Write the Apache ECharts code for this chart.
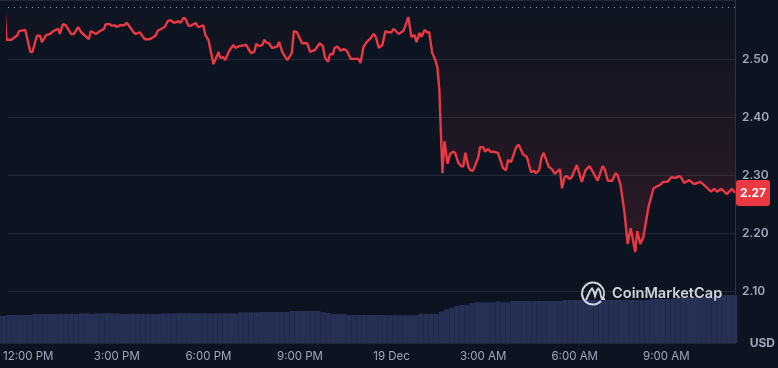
<!DOCTYPE html>
<html lang="en">
<head>
    <meta charset="UTF-8">
    <title>Price chart</title>
    <script src="https://cdn.jsdelivr.net/npm/echarts@6/dist/echarts.min.js"></script>
    <style>
        html, body { margin: 0; padding: 0; background: #0d1421; }
        #chart { width: 778px; height: 368px; }
    </style>
</head>
<body>
<div id="chart"></div>
<script>
    // minutes after 12:00 PM, price in USD
    const pricePoints = [
        [-41,2.594],[-37,2.534],[-27,2.534],[-20,2.539],[-16,2.541],[-12,2.549],[0,2.551],[10,2.513],[14,2.513],[23,2.541],
        [29,2.541],[33,2.530],[41,2.542],[49,2.544],[55,2.549],[65,2.553],[68,2.544],[74,2.561],[80,2.559],[90,2.544],
        [96,2.544],[104,2.556],[110,2.547],[125,2.535],[129,2.549],[139,2.544],[147,2.549],[155,2.553],[158,2.561],[166,2.561],
        [170,2.558],[176,2.559],[180,2.556],[186,2.559],[194,2.559],[200,2.563],[213,2.547],[217,2.544],[225,2.547],[235,2.535],
        [245,2.535],[256,2.541],[260,2.549],[274,2.556],[280,2.566],[286,2.568],[292,2.563],[301,2.566],[305,2.563],[311,2.572],
        [315,2.570],[321,2.558],[325,2.558],[335,2.563],[340,2.556],[350,2.559],[354,2.542],[360,2.534],[370,2.492],[380,2.513],
        [383,2.503],[389,2.504],[393,2.499],[401,2.515],[409,2.525],[413,2.520],[421,2.523],[434,2.525],[444,2.511],[450,2.513],
        [454,2.527],[460,2.523],[466,2.525],[470,2.534],[473,2.530],[479,2.528],[485,2.520],[495,2.522],[499,2.530],[505,2.513],
        [515,2.499],[524,2.511],[528,2.549],[534,2.547],[544,2.528],[554,2.528],[560,2.513],[569,2.516],[579,2.528],[585,2.523],
        [589,2.504],[595,2.496],[599,2.509],[605,2.509],[608,2.520],[614,2.522],[620,2.515],[626,2.518],[632,2.515],[640,2.501],
        [648,2.501],[655,2.501],[659,2.494],[665,2.522],[671,2.530],[679,2.537],[685,2.544],[689,2.539],[695,2.520],[702,2.525],
        [708,2.549],[712,2.547],[720,2.547],[724,2.553],[734,2.544],[743,2.549],[747,2.558],[753,2.573],[759,2.539],[765,2.542],
        [769,2.530],[775,2.546],[779,2.539],[785,2.551],[790,2.547],[794,2.547],[800,2.511],[806,2.499],[810,2.487],[814,2.447],
        [816,2.396],[820,2.304],[824,2.359],[830,2.320],[835,2.337],[841,2.341],[845,2.339],[851,2.322],[857,2.316],[861,2.316],
        [865,2.339],[871,2.315],[875,2.309],[880,2.308],[890,2.330],[894,2.349],[900,2.349],[904,2.341],[910,2.346],[914,2.341],
        [920,2.341],[929,2.339],[939,2.313],[945,2.309],[949,2.327],[955,2.323],[965,2.349],[970,2.353],[978,2.337],[986,2.332],
        [994,2.306],[1000,2.308],[1004,2.304],[1010,2.309],[1015,2.332],[1019,2.339],[1029,2.315],[1035,2.311],[1041,2.303],[1051,2.311],
        [1055,2.278],[1060,2.297],[1064,2.299],[1070,2.294],[1074,2.297],[1084,2.318],[1094,2.289],[1101,2.309],[1109,2.316],[1117,2.304],
        [1125,2.291],[1135,2.316],[1139,2.311],[1145,2.291],[1154,2.291],[1160,2.304],[1164,2.301],[1170,2.284],[1178,2.235],[1184,2.182],
        [1190,2.209],[1199,2.168],[1203,2.204],[1209,2.182],[1215,2.194],[1225,2.246],[1235,2.278],[1238,2.278],[1248,2.284],[1254,2.289],
        [1262,2.289],[1270,2.297],[1278,2.296],[1285,2.299],[1289,2.297],[1295,2.287],[1305,2.292],[1315,2.285],[1327,2.289],[1336,2.282],
        [1348,2.272],[1354,2.277],[1360,2.272],[1368,2.277],[1379,2.268],[1389,2.277],[1395,2.270]
    ];
    const openTick = [[-43,2.598],[-41,2.594]];
    const openPrice = 2.5935;
    const lastPrice = 2.27;

    // 10 minute volume bars, first one at -40 min
    const volumes = [
        27,27,28,28,28,28,28,29,29,29,29,29,29,29,29,29,29.7,29.7,29,29.7,
        29.7,29.7,29.7,29.7,29,29,29,29,29,29,29,29,29.7,29.7,29.7,29.7,29.7,29.7,29.7,29.7,
        29.7,29.7,29.7,29.7,29.7,29.7,29.7,30.7,30.7,30.7,30.7,31,31,31,31,31,31,32,32,32,
        32,32,32,30.7,30,29,29,29,28,28,28,28,28,28,28,28,27.7,27.7,27.7,27.7,
        27.7,27.7,29,29,29,29,31.3,33.7,35.3,37,38,38,40,40.7,40.7,40.7,40.7,41.7,40.7,40.7,
        42,42,42,42,42,42,42,42,42,42,43,43,43,43,43,43,43,43,43,43,
        43,43,43,43,43,43,43,44,44,44,44,44,46,46,46,46,46,46,46,46,46,48,48,48
    ];
    const volumeStart = -40;
    const volumeStep = 10;

    const timeTicks = [0, 180, 360, 540, 720, 900, 1080, 1260];
    const timeLabels = ['12:00 PM', '3:00 PM', '6:00 PM', '9:00 PM', '19 Dec', '3:00 AM', '6:00 AM', '9:00 AM'];

    const textColor = '#a1a7bb';
    const lineColor = '#222a38';
    const red = '#ea3943';
    const xMin = -43, xMax = 1397;

    let chart = echarts.init(document.getElementById('chart'));
    chart.setOption({
        backgroundColor: '#0d1421',
        animation: false,
        textStyle: { fontFamily: 'Inter' },
        grid: [
            { left: 0, right: 42, top: 1.5, bottom: 18.5 },
            { left: 0, right: 42, top: 0, bottom: 25 }
        ],
        xAxis: [
            {
                // the bar series widens this axis on the left by about 9 min, so min sits inside the range
                type: 'value', gridIndex: 0, min: xMin + 9, max: xMax,
                splitLine: { show: false },
                axisLine: { show: false },
                axisTick: { show: false },
                axisLabel: {
                    color: textColor,
                    fontSize: 11.5,
                    margin: 1,
                    customValues: timeTicks,
                    formatter: (value) => {
                        let label = timeLabels[timeTicks.indexOf(value)];
                        return value === 0 ? '{first|' + label + '}' : label;
                    },
                    rich: { first: { color: textColor, fontSize: 11.5, padding: [0, 0, 0, 6] } }
                }
            },
            {
                type: 'value', gridIndex: 1, min: xMin + 5, max: xMax - 5,
                splitLine: { show: false },
                axisLine: { show: true, onZero: false, lineStyle: { color: lineColor, width: 1 } },
                axisTick: { show: false },
                axisLabel: { show: false },
                name: 'USD',
                nameLocation: 'end',
                nameGap: 14,
                nameTextStyle: { color: textColor, fontSize: 12, fontWeight: 700, verticalAlign: 'middle', padding: [0, 0, 10, 0] }
            }
        ],
        yAxis: [
            {
                type: 'value', gridIndex: 0, position: 'right', min: 2.0, max: 2.6, interval: 0.1,
                axisLine: { show: false },
                axisTick: { show: false },
                splitLine: { showMinLine: false, showMaxLine: false, lineStyle: { color: lineColor, width: 1 } },
                axisLabel: {
                    color: textColor,
                    fontSize: 12,
                    fontWeight: 600,
                    margin: 6,
                    formatter: (value) => (value < 2.05 || value > 2.55) ? '' : value.toFixed(2)
                }
            },
            {
                type: 'value', gridIndex: 1, position: 'right', min: 0, max: 343,
                axisLine: { show: true, onZero: false, lineStyle: { color: '#2b3342', width: 1 } },
                axisTick: { show: false },
                axisLabel: { show: false },
                splitLine: { show: false }
            }
        ],
        series: [
            {
                type: 'bar',
                xAxisIndex: 1,
                yAxisIndex: 1,
                barWidth: 5.2,
                itemStyle: { color: '#263054' },
                data: volumes.map((v, i) => [volumeStart + i * volumeStep, v])
            },
            {
                type: 'line',
                xAxisIndex: 0,
                yAxisIndex: 0,
                data: pricePoints,
                showSymbol: false,
                lineStyle: { color: red, width: 2.4 },
                itemStyle: { color: red },
                areaStyle: {
                    origin: openPrice,
                    color: new echarts.graphic.LinearGradient(0, 5, 0, 252, [
                        { offset: 0, color: 'rgba(234,57,67,0)' },
                        { offset: 1, color: 'rgba(234,57,67,0.22)' }
                    ], true)
                },
                markLine: {
                    silent: true,
                    symbol: 'none',
                    label: { show: false },
                    lineStyle: { color: textColor, type: [1, 5], width: 1 },
                    data: [{ yAxis: openPrice }]
                },
                markPoint: {
                    silent: true,
                    data: [
                        {
                            coord: [xMax, lastPrice],
                            symbol: 'path://M3 0H31Q34 0 34 3V23Q34 26 31 26H3Q0 26 0 23V3Q0 0 3 0Z',
                            symbolSize: [34, 26],
                            symbolOffset: [17, 0],
                            itemStyle: { color: red },
                            label: { show: true, formatter: lastPrice.toFixed(2), color: '#fff', fontSize: 12, fontWeight: 700, position: 'inside' }
                        },
                        {
                            coord: [xMin, openPrice],
                            symbol: 'roundRect',
                            symbolSize: [46, 19],
                            symbolOffset: [25, 3.7],
                            itemStyle: { color: '#222a35' },
                            label: { show: true, formatter: String(openPrice), color: textColor, fontSize: 12, fontWeight: 600, position: 'inside' }
                        }
                    ]
                }
            },
            {
                type: 'line',
                xAxisIndex: 0,
                yAxisIndex: 0,
                data: openTick,
                showSymbol: false,
                lineStyle: { color: '#16c784', width: 2 }
            }
        ],
        graphic: [
            {
                type: 'rect', silent: true, z: 1,
                shape: { x: 0, y: 0, width: 736, height: 1 },
                style: { fill: lineColor }
            },
            {
                type: 'arc', silent: true, z: 50,
                shape: { cx: 593, cy: 293.5, r: 11, startAngle: 0.75, endAngle: 0.45 },
                style: { stroke: '#cfd2db', lineWidth: 2, fill: null }
            },
            {
                type: 'polyline', silent: true, z: 50,
                shape: { points: [[586,300],[590,291],[592,288.5],[593.5,291],[595,296],[597,290],[598.5,288.5],[600,291],[601,296],[602,299],[605,299]] },
                style: { stroke: '#cfd2db', lineWidth: 2, fill: null }
            },
            {
                type: 'text', left: 612, top: 286, silent: true, z: 50,
                style: { text: 'CoinMarketCap', fill: '#cfd2db', font: '600 14.6px Inter' }
            }
        ]
    });
</script>
</body>
</html>
